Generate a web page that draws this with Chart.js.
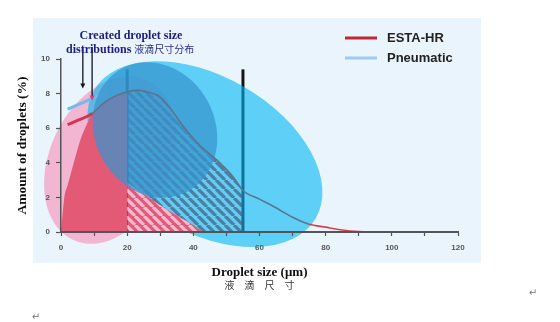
<!DOCTYPE html>
<html>
<head>
<meta charset="utf-8">
<script src="https://cdn.jsdelivr.net/npm/chart.js@4.4.1/dist/chart.umd.min.js"></script>
<style>
  html, body { margin: 0; padding: 0; background: #fff; }
  #wrap { position: relative; width: 560px; height: 322px; }
</style>
</head>
<body>
<div id="wrap"><canvas id="chart"></canvas></div>
<script>
// values (droplet size in µm, amount in %)
const estaSizes = [2, 5, 9.5, 12, 14, 17, 20, 23, 26, 30, 33, 37, 42, 45, 48, 52, 55, 60, 65, 70, 75, 80, 85, 90, 95];
const estaAmount = [6.2, 6.45, 6.85, 7.3, 7.6, 7.9, 8.1, 8.2, 8.1, 7.8, 7.15, 6.1, 5.0, 4.5, 4.0, 3.2, 2.4, 1.9, 1.4, 0.85, 0.45, 0.28, 0.12, 0.03, 0];
const pneumaticSizes = [2, 5, 8, 11, 14];
const pneumaticAmount = [7.1, 7.35, 7.6, 7.85, 8.05];
// red area: fine droplets up to 20 µm, then a low tail
const fineSizes = [0, 1, 2, 3, 4, 6, 8, 9.5, 12, 14, 17, 20];
const fineAmount = [0, 2.0, 2.7, 3.4, 4.1, 5.4, 6.3, 6.85, 7.3, 7.6, 7.9, 8.1];
const tailSizes = [20, 25, 30, 35, 40, 43];
const tailAmount = [2.85, 2.2, 1.55, 0.95, 0.4, 0];
const cutSizes = [20, 55];
const cutTop = 9.4;
const legendLabels = ['ESTA-HR', 'Pneumatic'];

const pts = (xs, ys) => xs.map((x, i) => ({ x, y: ys[i] }));

function stripes(color) {
  const s = 9;
  const c = document.createElement('canvas');
  c.width = s; c.height = s;
  const g = c.getContext('2d');
  g.strokeStyle = color;
  g.lineWidth = 3.2;
  g.beginPath();
  for (const k of [-s, 0, s]) { g.moveTo(k, 0); g.lineTo(k + s, s); }
  g.stroke();
  return g.createPattern(c, 'repeat');
}

// highlight shapes laid over the plot, in axis units
const blobs = {
  pink: { x: 14.8, y: 4.16, rx: 26.6, ry: 3.47, rot: -65, fill: '#f2b6d3' },
  cyan: { x: 43.5, y: 4.5, rx: 38.7, ry: 4.5, rot: 30, fill: 'rgba(0,182,244,0.6)' },
  blue: { x: 28.4, y: 5.9, rx: 21.1, ry: 3.47, rot: 62, fill: 'rgba(55,148,205,0.72)' }
};

function drawBlob(chart, b) {
  const { ctx, scales: { x, y } } = chart;
  const kx = x.getPixelForValue(1) - x.getPixelForValue(0);
  const ky = y.getPixelForValue(0) - y.getPixelForValue(1);
  ctx.save();
  ctx.fillStyle = b.fill;
  ctx.beginPath();
  ctx.ellipse(x.getPixelForValue(b.x), y.getPixelForValue(b.y), b.rx * kx, b.ry * ky, b.rot * Math.PI / 180, 0, Math.PI * 2);
  ctx.fill();
  ctx.restore();
}

function arrow(chart, xv, from, to, headColor) {
  const { ctx, scales: { x, y } } = chart;
  const px = x.getPixelForValue(xv);
  const y0 = y.getPixelForValue(from);
  const y1 = y.getPixelForValue(to);
  ctx.strokeStyle = '#151515';
  ctx.lineWidth = 1.3;
  ctx.beginPath();
  ctx.moveTo(px, y0);
  ctx.lineTo(px, y1 - 4);
  ctx.stroke();
  ctx.fillStyle = headColor;
  ctx.beginPath();
  ctx.moveTo(px - 2.5, y1 - 5);
  ctx.lineTo(px + 2.5, y1 - 5);
  ctx.lineTo(px, y1);
  ctx.closePath();
  ctx.fill();
}

const figure = {
  id: 'figure',
  beforeDraw(chart) {
    const { ctx, chartArea: a } = chart;
    ctx.save();
    ctx.fillStyle = '#eaf4fd';
    ctx.fillRect(a.left - 28, a.top - 41, a.right - a.left + 51, a.bottom - a.top + 72);
    ctx.restore();
  },
  beforeDatasetsDraw(chart) {
    drawBlob(chart, blobs.pink);
  },
  afterDatasetDraw(chart, args) {
    const label = chart.data.datasets[args.index].label;
    if (label === 'cut 55') drawBlob(chart, blobs.cyan);
    if (label === 'Pneumatic') drawBlob(chart, blobs.blue);
  },
  afterDraw(chart) {
    const { ctx, chartArea: a } = chart;
    ctx.save();
    // arrows from the note down to the curves
    arrow(chart, 6.6, 10.7, 8.3, '#151515');
    arrow(chart, 9.4, 10.7, 7.6, '#d0407a');

    // note
    ctx.fillStyle = '#1d1f80';
    ctx.textBaseline = 'alphabetic';
    ctx.font = 'bold 12px "Liberation Serif", "Times New Roman", serif';
    ctx.textAlign = 'center';
    ctx.fillText('Created droplet size', a.left + 70, a.top - 20);
    ctx.textAlign = 'left';
    const w = ctx.measureText('distributions ').width;
    ctx.fillText('distributions ', a.left + 5, a.top - 6);
    ctx.font = '10px "Noto Sans CJK SC", sans-serif';
    ctx.fillStyle = '#2a2c8c';
    ctx.fillText('液滴尺寸分布', a.left + 5 + w, a.top - 6);

    // legend
    const colors = ['#c62530', '#9dcbf3'];
    legendLabels.forEach((t, i) => {
      const ly = a.top - 21 + i * 20;
      ctx.strokeStyle = colors[i];
      ctx.lineWidth = 3;
      ctx.beginPath();
      ctx.moveTo(a.right - 113, ly);
      ctx.lineTo(a.right - 81, ly);
      ctx.stroke();
      ctx.fillStyle = '#222';
      ctx.font = 'bold 13px "Liberation Sans", Arial, sans-serif';
      ctx.textBaseline = 'middle';
      ctx.fillText(t, a.right - 71, ly);
    });

    // second line of the x title
    ctx.fillStyle = '#333';
    ctx.font = '10px "Noto Sans CJK SC", serif';
    ctx.textAlign = 'center';
    ctx.textBaseline = 'middle';
    ctx.fillText('液　滴　尺　寸', (a.left + a.right) / 2, a.bottom + 53);

    ctx.fillStyle = '#777';
    ctx.font = '10px "DejaVu Sans", sans-serif';
    ctx.fillText('↵', 533, 293);
    ctx.fillText('↵', 36, 317);
    ctx.restore();
  }
};

const area = (label, data, bg) => ({
  label, data, fill: 'origin', backgroundColor: bg,
  borderWidth: 0, pointRadius: 0, cubicInterpolationMode: 'monotone'
});

const layers = [
  ...cutSizes.map(c => ({
    label: 'cut ' + c,
    data: [{ x: c, y: 0 }, { x: c, y: cutTop }],
    borderColor: '#151515',
    borderWidth: 3,
    pointRadius: 0
  })),
  area('hatch', pts(estaSizes, estaAmount).filter(p => p.x >= cutSizes[0] && p.x <= cutSizes[1]), stripes('rgba(78,92,122,0.72)')),
  area('fine', pts(fineSizes, fineAmount), '#e35a76'),
  area('tail', pts(tailSizes, tailAmount), '#e35a76'),
  area('tail hatch', pts(tailSizes, tailAmount), stripes('rgba(247,203,227,0.85)')),
  {
    label: 'Pneumatic',
    data: pts(pneumaticSizes, pneumaticAmount),
    borderColor: '#72b9ec',
    borderWidth: 3,
    pointRadius: 0,
    cubicInterpolationMode: 'monotone'
  },
  {
    label: 'ESTA-HR',
    data: pts(estaSizes, estaAmount),
    borderWidth: 1.6,
    pointRadius: 0,
    cubicInterpolationMode: 'monotone',
    segment: {
      borderColor: s => s.p1.parsed.x <= 9.5 ? '#d3364f' : s.p0.parsed.x >= 72 ? '#d8404e' : '#5b7590',
      borderWidth: s => s.p1.parsed.x <= 9.5 ? 3 : 1.6
    }
  }
];
// first in the list is drawn first
layers.forEach((d, i) => { d.order = layers.length - i; });

const tickFont = { family: '"Liberation Sans", Arial, sans-serif', size: 8, weight: 'bold' };
const titleFont = { family: '"Liberation Serif", "Times New Roman", serif', weight: 'bold' };

new Chart(document.getElementById('chart'), {
  type: 'line',
  data: { datasets: layers },
  options: {
    responsive: true,
    maintainAspectRatio: false,
    animation: false,
    events: [],
    layout: { padding: { left: 14, right: 102, top: 59, bottom: 42 } },
    plugins: { legend: { display: false }, tooltip: { enabled: false } },
    scales: {
      x: {
        type: 'linear', min: 0, max: 120,
        afterFit: s => { s.height = 48; },
        border: { color: '#555', width: 2, z: 1 },
        grid: { drawOnChartArea: false, tickLength: 4, tickColor: '#555', tickWidth: 1.2, z: 1 },
        ticks: {
          stepSize: 10, padding: 7, color: '#555', font: tickFont, z: 1,
          callback: v => (v % 20 === 0 ? v : '')
        },
        title: { display: true, text: 'Droplet size (μm)', color: '#111', padding: { top: 0, bottom: 0 }, font: { ...titleFont, size: 13 } }
      },
      y: {
        min: 0, max: 10,
        afterFit: s => { s.width = 47; },
        border: { color: '#555', width: 1.5, z: 1 },
        grid: { drawOnChartArea: false, tickLength: 5, tickColor: '#555', tickWidth: 1.2, z: 1 },
        ticks: { stepSize: 2, padding: 6, color: '#555', font: tickFont, z: 1 },
        title: { display: true, text: 'Amount of droplets (%)', color: '#111', padding: { top: 0, bottom: 0 }, font: { ...titleFont, size: 13.5 } }
      }
    }
  },
  plugins: [figure]
});
</script>
</body>
</html>
